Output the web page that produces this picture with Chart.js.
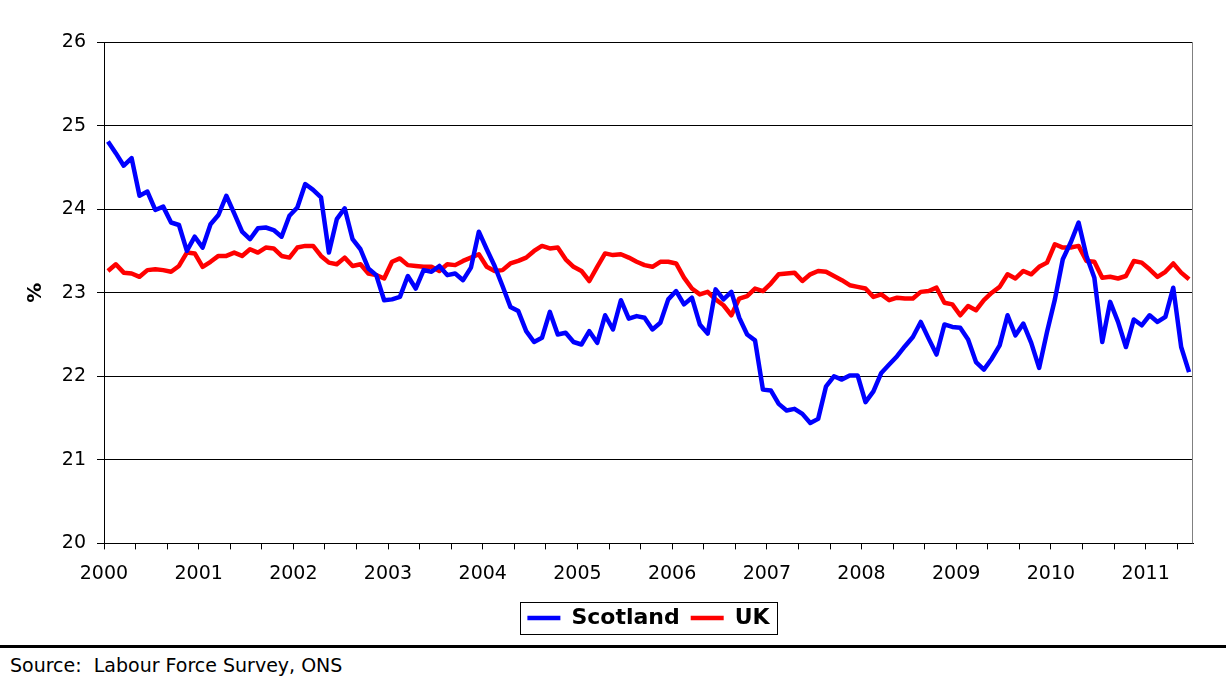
<!DOCTYPE html>
<html>
<head>
<meta charset="utf-8">
<script src="https://cdn.jsdelivr.net/npm/chart.js@4.4.1/dist/chart.umd.min.js"></script>
<style>
  html, body { margin: 0; padding: 0; background: #fff; overflow: hidden; }
  #wrap { position: absolute; left: 0; top: 0; width: 1226px; height: 640px; }
  #rule { position: absolute; left: 0; top: 645px; width: 1226px; height: 3px; background: #000; }
  #source { position: absolute; left: 10px; top: 654px; font-family: "DejaVu Sans", sans-serif; font-size: 19px; line-height: 22px; color: #000; white-space: pre; }
</style>
</head>
<body>
<div id="wrap"><canvas id="c"></canvas></div>
<div id="rule"></div>
<div id="source">Source:  Labour Force Survey, ONS</div>
<script>
// Tick labels (one per year) and month names used to build the monthly categories
const yearLabels = ['2000','2001','2002','2003','2004','2005','2006','2007','2008','2009','2010','2011'];
const monthNames = ['Jan','Feb','Mar','Apr','May','Jun','Jul','Aug','Sep','Oct','Nov','Dec'];
const pointCount = 138; // Jan 2000 .. Jun 2011

// Series values (%)
const scotland = [
  24.81,24.67,24.52,24.61,24.16,24.21,23.99,24.03,23.84,23.81,23.50,23.67,
  23.54,23.82,23.93,24.16,23.95,23.73,23.64,23.77,23.78,23.75,23.67,23.92,
  24.02,24.30,24.23,24.14,23.48,23.88,24.01,23.64,23.52,23.29,23.21,22.91,
  22.92,22.95,23.20,23.05,23.27,23.25,23.32,23.21,23.23,23.15,23.30,23.73,
  23.52,23.32,23.08,22.83,22.78,22.54,22.41,22.46,22.77,22.50,22.52,22.41,
  22.38,22.54,22.40,22.73,22.56,22.91,22.69,22.72,22.70,22.56,22.64,22.92,
  23.02,22.86,22.94,22.62,22.51,23.04,22.92,23.01,22.70,22.50,22.43,21.84,
  21.83,21.67,21.59,21.61,21.55,21.44,21.49,21.88,22.00,21.96,22.01,22.01,
  21.69,21.82,22.04,22.14,22.24,22.36,22.47,22.65,22.45,22.26,22.62,22.59,
  22.58,22.44,22.17,22.08,22.21,22.37,22.73,22.49,22.63,22.40,22.10,22.53,
  22.92,23.40,23.60,23.84,23.44,23.18,22.41,22.89,22.65,22.35,22.68,22.61,
  22.73,22.65,22.71,23.06,22.35,22.05
];
const uk = [
  23.26,23.34,23.24,23.23,23.19,23.27,23.28,23.27,23.25,23.32,23.48,23.47,
  23.31,23.37,23.44,23.44,23.48,23.44,23.52,23.48,23.54,23.53,23.44,23.42,
  23.54,23.56,23.56,23.44,23.36,23.34,23.42,23.32,23.34,23.23,23.21,23.17,
  23.37,23.41,23.33,23.32,23.31,23.31,23.26,23.34,23.33,23.38,23.42,23.46,
  23.31,23.26,23.27,23.35,23.38,23.42,23.50,23.56,23.53,23.54,23.40,23.31,
  23.26,23.14,23.31,23.47,23.45,23.46,23.42,23.37,23.33,23.31,23.37,23.37,
  23.35,23.18,23.05,22.98,23.01,22.92,22.85,22.73,22.93,22.96,23.05,23.02,
  23.11,23.22,23.23,23.24,23.14,23.22,23.26,23.25,23.20,23.15,23.09,23.07,
  23.05,22.95,22.98,22.91,22.94,22.93,22.93,23.01,23.02,23.06,22.88,22.86,
  22.73,22.84,22.79,22.91,23.00,23.07,23.22,23.17,23.26,23.22,23.31,23.36,
  23.58,23.54,23.54,23.56,23.38,23.37,23.18,23.19,23.17,23.20,23.38,23.36,
  23.28,23.19,23.25,23.35,23.24,23.16
];

const categories = [];
for (let i = 0; i < pointCount; i++) {
  categories.push(monthNames[i % 12] + ' ' + yearLabels[Math.floor(i / 12)]);
}

const FONT = '"DejaVu Sans", sans-serif';

const extras = {
  id: 'extras',
  beforeDatasetsDraw(chart) {
    const {ctx, chartArea} = chart;
    ctx.save();
    ctx.strokeStyle = '#808080';
    ctx.lineWidth = 1;
    ctx.beginPath();
    ctx.moveTo(Math.round(chartArea.right) - 0.5, chartArea.top);
    ctx.lineTo(Math.round(chartArea.right) - 0.5, chartArea.bottom);
    ctx.stroke();
    ctx.restore();
  },
  afterDraw(chart) {
    const lg = chart.legend;
    if (!lg || !lg.legendHitBoxes || !lg.legendHitBoxes.length) return;
    const hb = lg.legendHitBoxes;
    const l = Math.min(...hb.map(h => h.left)) - 7;
    const r = Math.max(...hb.map(h => h.left + h.width)) + 8;
    const cy = hb[0].top + hb[0].height / 2;
    const ctx = chart.ctx;
    ctx.save();
    ctx.strokeStyle = '#000';
    ctx.lineWidth = 1;
    ctx.strokeRect(Math.round(l) + 0.5, Math.round(cy - 16) + 0.5, Math.round(r - l), 32);
    ctx.restore();
  }
};

new Chart(document.getElementById('c'), {
  type: 'line',
  data: {
    labels: categories,
    datasets: [
      { label: 'Scotland', data: scotland, borderColor: '#0000FF', backgroundColor: '#0000FF',
        borderWidth: 4.5, pointRadius: 0, tension: 0, borderJoinStyle: 'round', pointStyle: 'line' },
      { label: 'UK', data: uk, borderColor: '#FF0000', backgroundColor: '#FF0000',
        borderWidth: 4.5, pointRadius: 0, tension: 0, borderJoinStyle: 'round', pointStyle: 'line' }
    ]
  },
  options: {
    responsive: true,
    maintainAspectRatio: false,
    animation: false,
    devicePixelRatio: 1,
    layout: { padding: { top: 42, right: 33, bottom: 1, left: 0 } },
    plugins: {
      tooltip: { enabled: false },
      legend: {
        position: 'bottom',
        fullSize: false,
        labels: {
          usePointStyle: true,
          pointStyle: 'line',
          pointStyleWidth: 33,
          boxWidth: 33,
          padding: 11,
          color: '#000',
          font: { family: FONT, size: 22, weight: 'bold' }
        }
      }
    },
    scales: {
      x: {
        type: 'category',
        offset: true,
        grid: {
          display: true,
          offset: true,
          drawOnChartArea: false,
          drawTicks: true,
          tickLength: 6,
          tickWidth: 1,
          tickColor: (ctx) => (ctx.index !== undefined && ctx.index % 4 === 0 ? '#000' : 'rgba(0,0,0,0)')
        },
        border: { display: true, color: '#000', width: 1 },
        ticks: {
          autoSkip: false,
          maxRotation: 0,
          minRotation: 0,
          padding: 13,
          labelOffset: -4,
          color: '#000',
          font: { family: FONT, size: 19 },
          callback: (v, i) => (i % 12 === 0 ? yearLabels[i / 12] : '')
        },
        afterFit: (s) => { s.height = 52.6; }
      },
      y: {
        min: 20,
        max: 26,
        ticks: { stepSize: 1, padding: 11, color: '#000', font: { family: FONT, size: 19 } },
        grid: { color: '#000', lineWidth: 1, tickLength: 7, drawTicks: true },
        border: { display: true, color: '#000', width: 1 },
        title: {
          display: true,
          text: '%',
          color: '#000',
          font: { family: FONT, size: 20, weight: 'bold' },
          padding: { top: 24, bottom: 0 }
        },
        afterFit: (s) => { s.width = 104; }
      }
    }
  },
  plugins: [extras]
});
</script>
</body>
</html>
